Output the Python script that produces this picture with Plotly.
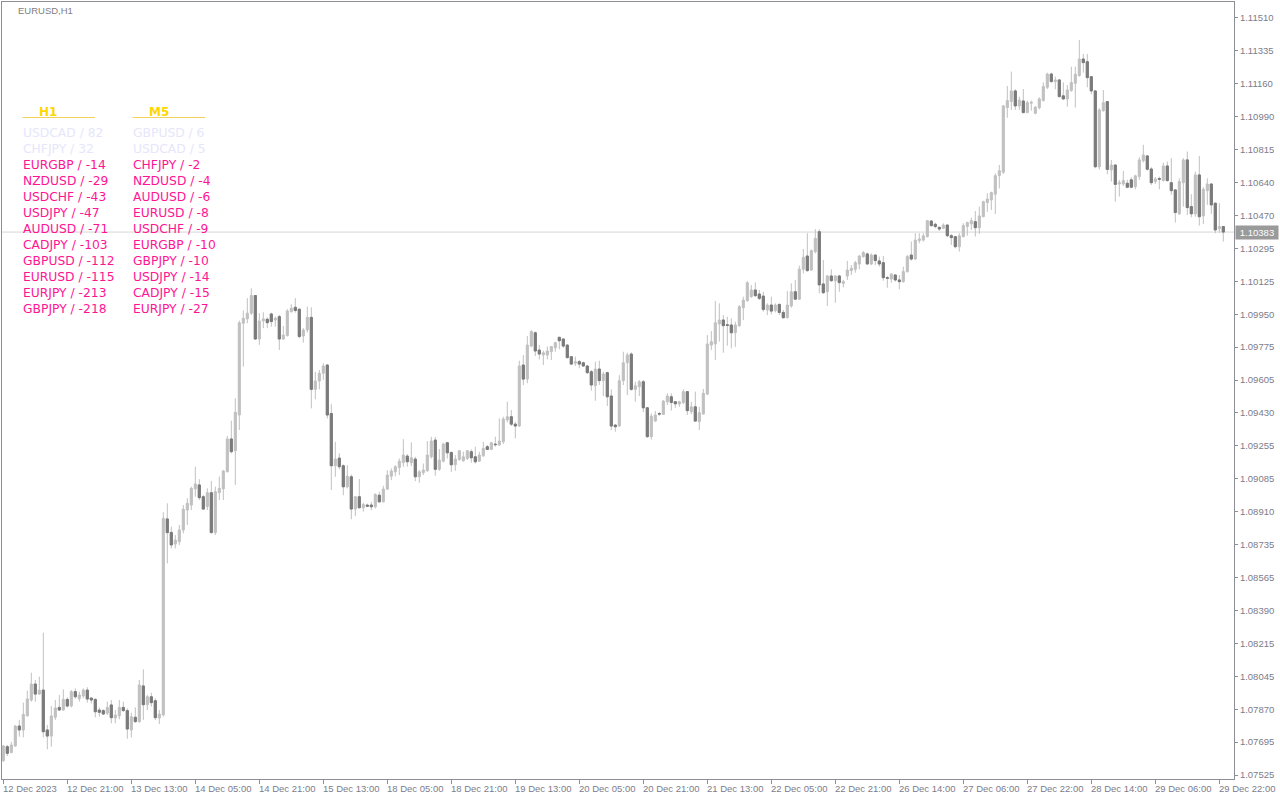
import numpy as np
import plotly.graph_objects as go

# ---------------- data ----------------
symbol_title = "EURUSD,H1"

# H1 candles, prices in points (1e-5)
opens = [107600,107674,107643,107678,107783,107762,107837,107920,108004,107951,
         107972,107762,107730,107829,107881,107867,107923,107888,107964,107927,
         107941,107972,107930,107923,107867,107864,107850,107894,107825,107836,
         107881,107864,107762,107829,107806,107994,107895,107937,107916,107825,
         107841,108873,108802,108741,108753,108815,108920,108946,109031,109052,
         108990,108938,109011,108801,109011,109031,109122,109294,109232,109420,
         109903,109926,109956,110049,109820,109915,109924,109952,109920,109938,
         109820,109838,109964,109987,109977,109836,109868,109934,109555,109599,
         109640,109683,109428,109153,109193,109153,109042,109095,108925,108990,
         108932,108946,108946,108937,108998,108963,109030,109098,109121,109144,
         109169,109204,109169,109188,109095,109116,109126,109200,109288,109134,
         109177,109274,109223,109158,109186,109179,109191,109227,109200,109177,
         109205,109253,109239,109267,109262,109279,109394,109411,109372,109362,
         109683,109609,109783,109853,109762,109736,109736,109753,109774,109829,
         109820,109788,109727,109692,109701,109695,109678,109648,109574,109662,
         109601,109643,109520,109367,109362,109601,109695,109741,109555,109569,
         109595,109458,109306,109388,109428,109423,109490,109516,109490,109478,
         109485,109543,109437,109463,109385,109425,109530,109788,109794,109899,
         109920,109895,109894,109853,109890,109985,110022,110043,110078,110057,
         110046,109973,109999,109969,110002,109960,109932,109994,110069,110030,
         110187,110257,110183,110280,110385,110110,110069,110152,110127,110152,
         110113,110152,110180,110187,110215,110254,110268,110215,110262,110231,
         110222,110143,110136,110157,110131,110122,110175,110262,110241,110338,
         110341,110359,110441,110424,110408,110403,110420,110364,110359,110306,
         110359,110412,110426,110438,110406,110464,110538,110552,110582,110680,
         110698,111038,111070,111126,111047,111073,111012,111061,111008,111038,
         111075,111145,111215,111175,111184,111100,111084,111128,111166,111207,
         111294,111280,111201,111126,110727,111022,111070,110710,110736,110636,
         110636,110640,110658,110622,110675,110759,110784,110715,110649,110665,
         110654,110731,110643,110605,110479,110643,110763,110517,110479,110684,
         110468,110601,110636,110535,110400,110412]
highs = [107683,107683,107700,107788,107815,107906,107969,108064,108025,108043,
         108274,107788,107888,107920,107946,107976,107934,107972,107981,107964,
         107981,107987,107934,107929,107881,107871,107911,107920,107867,107920,
         107911,107876,107853,107881,108025,108081,107946,107958,107929,107867,
         108908,108955,108832,108788,108841,108946,108982,109043,109148,109082,
         108999,109034,109073,109043,109096,109131,109310,109390,109508,109917,
         109970,110035,110087,110052,109956,109961,109934,109959,109938,109947,
         109889,109977,110003,110035,109982,109877,109991,109987,109648,109657,
         109692,109688,109477,109279,109218,109160,109156,109107,108993,109083,
         108958,108954,108963,109007,109016,109048,109130,109139,109156,109191,
         109293,109214,109276,109200,109130,109165,109283,109305,109305,109241,
         109274,109279,109227,109209,109235,109227,109235,109239,109253,109227,
         109279,109262,109279,109306,109402,109411,109490,109446,109385,109706,
         109736,109836,109867,109859,109788,109759,109780,109783,109806,109832,
         109824,109794,109730,109727,109709,109701,109683,109657,109701,109706,
         109648,109648,109555,109372,109630,109753,109748,109750,109595,109604,
         109604,109463,109428,109441,109437,109499,109534,109534,109493,109495,
         109555,109546,109490,109543,109463,109557,109841,109862,110020,110008,
         109946,109937,109929,109911,109999,110043,110125,110104,110118,110078,
         110069,110008,110043,110008,110008,109973,110073,110113,110130,110206,
         110294,110377,110292,110398,110398,110236,110157,110187,110157,110157,
         110131,110231,110210,110231,110262,110283,110275,110271,110266,110254,
         110257,110152,110166,110162,110157,110201,110262,110333,110377,110377,
         110377,110447,110447,110433,110412,110429,110424,110373,110363,110377,
         110429,110438,110459,110494,110517,110548,110587,110596,110692,110736,
         111052,111152,111228,111135,111096,111136,111075,111075,111047,111092,
         111171,111222,111222,111201,111187,111171,111157,111254,111254,111394,
         111321,111321,111205,111131,111035,111131,111073,110763,110736,110657,
         110705,110658,110672,110684,110777,110842,110789,110724,110672,110675,
         110749,110754,110772,110608,110666,110772,110807,110582,110701,110784,
         110619,110666,110640,110538,110535,110412]
lows = [107595,107625,107639,107674,107727,107723,107832,107911,107911,107946,
        107723,107660,107674,107815,107864,107864,107881,107881,107927,107911,
        107929,107906,107902,107829,107832,107841,107841,107797,107797,107818,
        107858,107716,107723,107800,107800,107815,107867,107885,107815,107793,
        107832,108639,108718,108718,108736,108797,108841,108920,108990,108973,
        108920,108920,108797,108788,108973,108973,109117,109218,109052,109341,
        109675,109903,109947,109815,109789,109877,109877,109885,109885,109762,
        109815,109833,109959,109959,109824,109801,109854,109455,109503,109555,
        109605,109402,109025,109095,109134,108998,109033,108872,108888,108928,
        108911,108937,108919,108928,108958,108960,109025,109077,109098,109104,
        109148,109148,109151,109072,109063,109104,109121,109191,109100,109126,
        109170,109191,109121,109126,109179,109174,109183,109169,109165,109174,
        109200,109236,109236,109253,109257,109267,109381,109362,109297,109358,
        109578,109587,109776,109730,109713,109683,109713,109709,109753,109766,
        109774,109718,109683,109678,109666,109674,109636,109548,109495,109578,
        109520,109467,109341,109332,109358,109578,109525,109548,109490,109520,
        109435,109300,109291,109385,109416,109420,109472,109443,109458,109463,
        109478,109420,109425,109385,109341,109423,109525,109762,109709,109806,
        109748,109785,109771,109779,109885,109920,110016,110037,110043,110025,
        109964,109946,109950,109960,109946,109929,109929,109985,110025,110025,
        110166,110175,110180,110271,110061,110057,109994,110122,110011,110069,
        110092,110131,110157,110169,110187,110248,110213,110210,110210,110201,
        110127,110090,110117,110122,110082,110117,110169,110233,110236,110324,
        110333,110355,110412,110403,110389,110398,110355,110315,110298,110280,
        110355,110364,110394,110359,110373,110461,110490,110499,110478,110613,
        110689,110985,111026,111026,111026,111008,111008,111022,111003,111029,
        111070,111136,111170,111135,111092,111078,111043,111122,111038,111201,
        111222,111145,111108,110719,110713,111017,110687,110649,110543,110570,
        110626,110614,110614,110608,110658,110749,110707,110631,110636,110608,
        110649,110649,110579,110433,110473,110517,110473,110461,110464,110417,
        110426,110526,110479,110377,110380,110333]
closes = [107678,107639,107683,107783,107762,107844,107925,108004,107951,107972,
          107753,107730,107836,107878,107867,107923,107888,107964,107937,107946,
          107972,107925,107920,107858,107855,107846,107881,107827,107841,107881,
          107864,107767,107832,107806,107999,107895,107937,107906,107827,107846,
          108876,108801,108736,108762,108815,108924,108955,109034,109057,108985,
          108925,109011,108801,109017,109034,109125,109294,109227,109434,109906,
          109929,109956,110049,109820,109915,109926,109906,109912,109929,109820,
          109841,109968,109982,109970,109833,109868,109934,109555,109599,109640,
          109678,109420,109153,109188,109148,109042,109098,108925,108990,108932,
          108949,108940,108937,109002,108963,109030,109104,109125,109148,109177,
          109209,109174,109195,109095,109121,109130,109209,109283,109134,109183,
          109267,109221,109158,109188,109232,109200,109232,109195,109174,109209,
          109244,109239,109274,109264,109283,109399,109411,109372,109362,109678,
          109609,109788,109859,109757,109741,109748,109757,109780,109801,109811,
          109783,109722,109688,109701,109688,109678,109643,109578,109662,109601,
          109636,109516,109362,109358,109601,109695,109736,109555,109574,109595,
          109458,109306,109414,109420,109425,109493,109520,109486,109479,109490,
          109543,109443,109463,109388,109432,109534,109794,109806,109906,109920,
          109890,109892,109853,109894,109990,110025,110116,110078,110048,110034,
          109976,109999,109967,109999,109960,109932,109999,110069,110030,110188,
          110250,110180,110285,110350,110105,110064,110152,110127,110152,110117,
          110122,110183,110192,110222,110257,110275,110215,110262,110233,110215,
          110143,110140,110162,110131,110122,110175,110254,110241,110341,110347,
          110363,110443,110417,110412,110399,110420,110364,110354,110306,110363,
          110417,110433,110443,110406,110468,110543,110557,110591,110680,110706,
          111047,111075,111126,111047,111078,111012,111064,111066,111040,111084,
          111149,111215,111175,111184,111096,111084,111131,111170,111214,111294,
          111275,111196,111126,110727,111026,111064,110713,110736,110634,110643,
          110654,110619,110619,110679,110763,110789,110714,110643,110663,110661,
          110731,110654,110601,110486,110649,110763,110512,110479,110684,110464,
          110608,110636,110526,110394,110412,110383]
POINT = 1e-5

x_tick_text = ["12 Dec 2023", "12 Dec 21:00", "13 Dec 13:00", "14 Dec 05:00",
               "14 Dec 21:00", "15 Dec 13:00", "18 Dec 05:00", "18 Dec 21:00",
               "19 Dec 13:00", "20 Dec 05:00", "20 Dec 21:00", "21 Dec 13:00",
               "22 Dec 05:00", "22 Dec 21:00", "26 Dec 14:00", "27 Dec 06:00",
               "27 Dec 22:00", "28 Dec 14:00", "29 Dec 06:00", "29 Dec 22:00"]
bars_per_label = 16

y_tick_text = ["1.07525", "1.07695", "1.07870", "1.08045", "1.08215", "1.08390",
               "1.08565", "1.08735", "1.08910", "1.09085", "1.09255", "1.09430",
               "1.09605", "1.09775", "1.09950", "1.10125", "1.10295", "1.10470",
               "1.10640", "1.10815", "1.10990", "1.11160", "1.11335", "1.11510"]
bid_price = 1.10383

h1_pairs = ["USDCAD", "CHFJPY", "EURGBP", "NZDUSD", "USDCHF", "USDJPY",
            "AUDUSD", "CADJPY", "GBPUSD", "EURUSD", "EURJPY", "GBPJPY"]
h1_values = [82, 32, -14, -29, -43, -47, -71, -103, -112, -115, -213, -218]
m5_pairs = ["GBPUSD", "USDCAD", "CHFJPY", "NZDUSD", "AUDUSD", "EURUSD",
            "USDCHF", "EURGBP", "GBPJPY", "USDJPY", "CADJPY", "EURJPY"]
m5_values = [6, 5, -2, -4, -6, -8, -9, -10, -10, -14, -15, -27]

# ---------------- styling ----------------
BULL = "#c0c0c0"
BEAR = "#7a7a7a"
FRAME = "#8e8e98"
LABEL = "#7c7c8c"
POS_COL = "#E6E6FA"
NEG_COL = "#FF1493"
HEAD_COL = "#FFD700"
SMALL_FONT = dict(family="Liberation Sans", size=9.5, color=LABEL)
TABLE_FONT = "DejaVu Sans"

n = len(opens)
xs = list(range(n))
o = np.array(opens) * POINT
h = np.array(highs) * POINT
l = np.array(lows) * POINT
c = np.array(closes) * POINT

fig = go.Figure()
# wicks + bull bodies
fig.add_trace(go.Candlestick(
    x=xs, open=o, high=h, low=l, close=c,
    increasing=dict(line=dict(color=BULL, width=1), fillcolor=BULL),
    decreasing=dict(line=dict(color=BULL, width=1), fillcolor=BULL),
    whiskerwidth=0, hoverinfo="skip", showlegend=False))
# bear bodies drawn over
bear = c < o
bx = [i for i in xs if bear[i]]
fig.add_trace(go.Candlestick(
    x=bx, open=o[bear], high=o[bear], low=c[bear], close=c[bear],
    increasing=dict(line=dict(color=BEAR, width=1), fillcolor=BEAR),
    decreasing=dict(line=dict(color=BEAR, width=1), fillcolor=BEAR),
    whiskerwidth=0, hoverinfo="skip", showlegend=False))

# bid line
fig.add_shape(type="line", xref="paper", x0=0, x1=1, yref="y",
              y0=bid_price, y1=bid_price, line=dict(color="#d6d6d6", width=1),
              layer="below")

annotations = []
# symbol title
annotations.append(dict(text=symbol_title, xref="paper", yref="paper", x=0, y=1,
                        xanchor="left", yanchor="middle", xshift=14, yshift=-8.5,
                        showarrow=False, font=dict(family="Liberation Sans", size=9.5,
                                                   color="#808080")))
# x labels (left aligned at their bar)
x_tick_index = [k * bars_per_label for k in range(len(x_tick_text))]
for xi, t in zip(x_tick_index, x_tick_text):
    annotations.append(dict(text=t, xref="x", yref="paper", x=xi, y=0,
                            xanchor="left", yanchor="middle", xshift=-2.5, yshift=-9,
                            showarrow=False, font=SMALL_FONT))
# price box
annotations.append(dict(text=f"{bid_price:.5f}", xref="paper", yref="y", x=1,
                        y=bid_price, xanchor="left", yanchor="middle", xshift=1,
                        showarrow=False, bgcolor="#9a9a9a", borderpad=1, width=40,
                        font=dict(family="Liberation Sans", size=9.5, color="white")))

# table
col_x = [19, 129]
head_cx = [45.5, 156.5]
row0_y = 132.7
row_step = 16
for ci, (title, pairs, vals) in enumerate([("H1", h1_pairs, h1_values),
                                           ("M5", m5_pairs, m5_values)]):
    annotations.append(dict(text=f"<b>{title}</b>", xref="paper", yref="paper", x=0, y=1,
                            xanchor="center", yanchor="middle", xshift=head_cx[ci],
                            yshift=-109.7, showarrow=False,
                            font=dict(family=TABLE_FONT, size=12, color=HEAD_COL)))
    fig.add_shape(type="line", xref="paper", yref="paper", xsizemode="pixel",
                  ysizemode="pixel", xanchor=0, yanchor=1,
                  x0=col_x[ci] + 1.5, x1=col_x[ci] + 74, y0=-115.5, y1=-115.5,
                  line=dict(color="#f2d25a", width=1))
    for ri, (p, v) in enumerate(zip(pairs, vals)):
        annotations.append(dict(text=f"{p} / {v}", xref="paper", yref="paper", x=0, y=1,
                                xanchor="left", yanchor="middle", xshift=col_x[ci],
                                yshift=-(row0_y + ri * row_step - 2), showarrow=False,
                                font=dict(family=TABLE_FONT, size=12.3,
                                          color=POS_COL if v > 0 else NEG_COL)))

y_vals = np.linspace(float(y_tick_text[0]), float(y_tick_text[-1]), len(y_tick_text))

fig.update_layout(
    width=1280, height=800, autosize=False,
    margin=dict(l=2, r=46, t=2, b=21, pad=0),
    paper_bgcolor="white", plot_bgcolor="white",
    showlegend=False, hovermode=False, boxgap=0.25,
    annotations=annotations,
    xaxis=dict(range=[-0.325, 307.675], showgrid=False, zeroline=False,
               showline=True, linecolor=FRAME, linewidth=1, mirror=True,
               ticks="outside", ticklen=4, tickcolor=FRAME, tickwidth=1,
               tickmode="array", tickvals=x_tick_index, showticklabels=False,
               rangeslider=dict(visible=False), fixedrange=True),
    yaxis=dict(side="right", range=[1.07504, 1.115941], showgrid=False,
               zeroline=False, showline=True, linecolor=FRAME, linewidth=1,
               mirror=True, ticks="outside", ticklen=3, tickcolor=FRAME,
               tickmode="array", tickvals=y_vals, ticktext=y_tick_text,
               tickfont=SMALL_FONT, automargin=False, fixedrange=True),
)

fig.write_html("out.html", config={"displayModeBar": False},
               post_script="document.body.style.margin='0';document.body.style.overflow='hidden';")
